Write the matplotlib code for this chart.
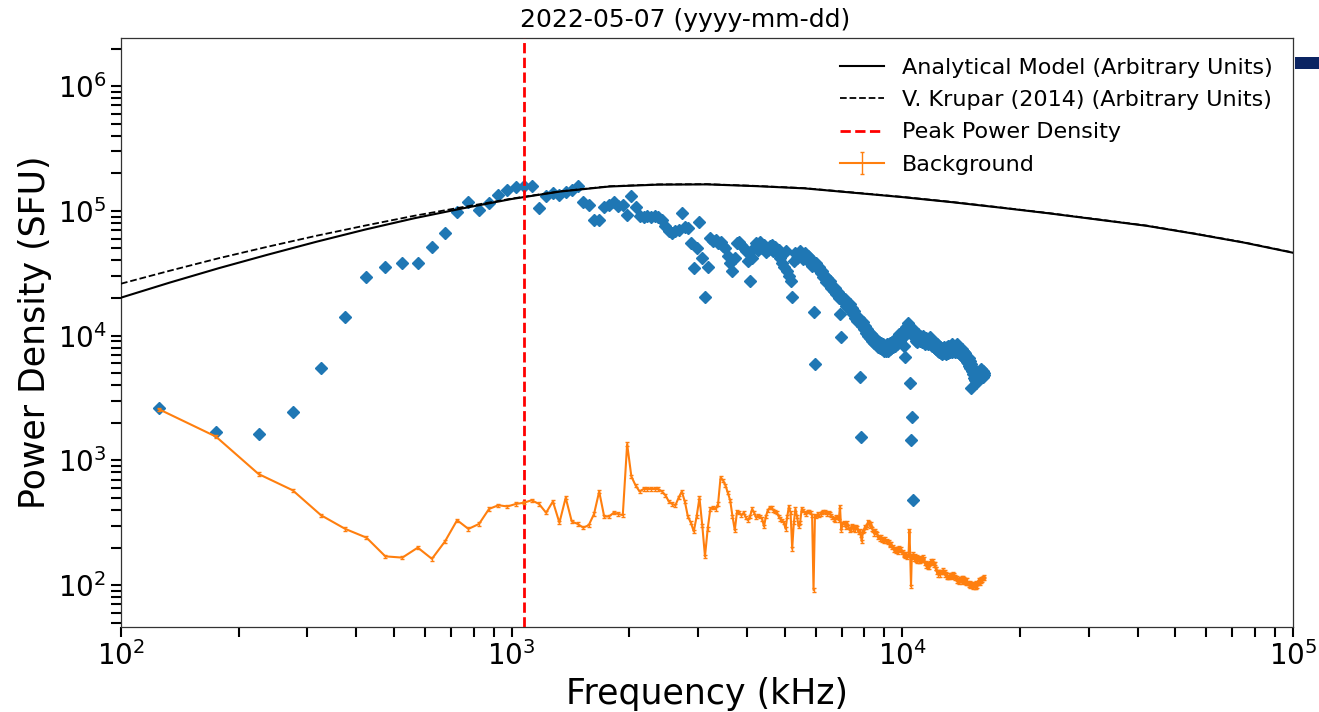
import numpy as np
import matplotlib
matplotlib.use("Agg")
import matplotlib.pyplot as plt
from matplotlib.patches import Rectangle

# ---------------- data ----------------
title_text = "2022-05-07 (yyyy-mm-dd)"
x_label = "Frequency (kHz)"
y_label = "Power Density (SFU)"

# frequency channels (kHz): 125, 175, ... 16225
channel_start, channel_step, channel_stop = 125, 50, 16225
freq = np.arange(channel_start, channel_stop + 1, channel_step)

# observed power density (log10 SFU), one value per channel, 10 channels per row
signal_log10 = [
    3.42, 3.23, 3.21, 3.39, 3.74, 4.15, 4.47, 4.55, 4.58, 4.58,
    4.71, 4.82, 4.99, 5.07, 5.01, 5.06, 5.13, 5.17, 5.19, 5.20,
    5.20, 5.02, 5.12, 5.14, 5.13, 5.15, 5.17, 5.20, 5.07, 5.05,
    4.93, 4.93, 5.03, 5.05, 5.07, 5.04, 5.05, 4.97, 5.12, 5.03,
    4.96, 4.95, 4.96, 4.95, 4.96, 4.95, 4.93, 4.88, 4.84, 4.82,
    4.84, 4.85, 4.98, 4.87, 4.86, 4.74, 4.54, 4.70, 4.91, 4.62,
    4.31, 4.55, 4.78, 4.76, 4.77, 4.74, 4.75, 4.72, 4.70, 4.64,
    4.58, 4.52, 4.62, 4.74, 4.75, 4.73, 4.70, 4.68, 4.60, 4.44,
    4.62, 4.70, 4.74, 4.69, 4.75, 4.70, 4.73, 4.67, 4.69, 4.72,
    4.73, 4.68, 4.71, 4.66, 4.69, 4.62, 4.58, 4.55, 4.68, 4.52,
    4.48, 4.44, 4.31, 4.60, 4.66, 4.62, 4.65, 4.68, 4.63, 4.61,
    4.66, 4.62, 4.64, 4.59, 4.61, 4.56, 4.19, 3.77, 4.58, 4.53,
    4.55, 4.50, 4.52, 4.47, 4.48, 4.43, 4.46, 4.41, 4.44, 4.38,
    4.40, 4.36, 4.38, 4.33, 4.35, 4.30, 4.17, 3.99, 4.31, 4.27,
    4.29, 4.24, 4.27, 4.22, 4.25, 4.20, 4.22, 4.17, 4.20, 4.14,
    4.16, 4.12, 4.14, 3.67, 3.19, 4.08, 4.11, 4.05, 4.08, 4.02,
    4.05, 4.00, 4.03, 3.98, 4.01, 3.96, 3.99, 3.94, 3.98, 3.93,
    3.96, 3.91, 3.95, 3.90, 3.94, 3.89, 3.93, 3.88, 3.92, 3.88,
    3.93, 3.88, 3.93, 3.89, 3.94, 3.90, 3.95, 3.91, 3.96, 3.92,
    3.98, 3.93, 3.99, 3.95, 4.01, 3.96, 4.02, 3.98, 4.04, 4.00,
    3.92, 3.83, 4.07, 4.03, 4.10, 4.06, 4.08, 3.62, 3.16, 3.35,
    2.68, 4.05, 3.99, 4.02, 3.96, 4.00, 3.95, 4.01, 3.97, 4.00,
    3.96, 3.99, 3.95, 4.00, 3.96, 3.98, 3.93, 3.98, 3.94, 3.97,
    3.93, 3.97, 3.94, 3.99, 3.95, 3.97, 3.92, 3.96, 3.91, 3.95,
    3.90, 3.94, 3.89, 3.93, 3.88, 3.92, 3.87, 3.91, 3.86, 3.90,
    3.85, 3.89, 3.86, 3.91, 3.86, 3.90, 3.85, 3.91, 3.87, 3.92,
    3.86, 3.91, 3.87, 3.92, 3.88, 3.93, 3.87, 3.92, 3.88, 3.91,
    3.87, 3.92, 3.88, 3.93, 3.87, 3.92, 3.88, 3.91, 3.86, 3.90,
    3.85, 3.89, 3.84, 3.88, 3.83, 3.87, 3.82, 3.86, 3.81, 3.84,
    3.79, 3.83, 3.78, 3.82, 3.76, 3.80, 3.74, 3.58, 3.77, 3.72,
    3.74, 3.69, 3.71, 3.66, 3.70, 3.64, 3.68, 3.62, 3.67, 3.65,
    3.70, 3.66, 3.71, 3.67, 3.72, 3.68, 3.73, 3.69, 3.71, 3.67,
    3.72, 3.68, 3.70,
]

# background power density (log10 SFU), one value per channel
background_log10 = [
    3.41, 3.19, 2.89, 2.76, 2.56, 2.45, 2.38, 2.23, 2.22, 2.30,
    2.21, 2.35, 2.52, 2.45, 2.49, 2.61, 2.64, 2.63, 2.65, 2.66,
    2.68, 2.65, 2.58, 2.67, 2.50, 2.70, 2.51, 2.49, 2.46, 2.48,
    2.57, 2.75, 2.55, 2.55, 2.58, 2.57, 2.56, 3.13, 2.87, 2.80,
    2.75, 2.77, 2.77, 2.77, 2.77, 2.77, 2.75, 2.72, 2.67, 2.65,
    2.64, 2.70, 2.75, 2.67, 2.55, 2.50, 2.43, 2.55, 2.70, 2.48,
    2.23, 2.45, 2.61, 2.62, 2.61, 2.65, 2.86, 2.84, 2.80, 2.74,
    2.68, 2.55, 2.44, 2.59, 2.58, 2.56, 2.58, 2.54, 2.52, 2.55,
    2.61, 2.58, 2.54, 2.56, 2.55, 2.53, 2.47, 2.55, 2.60, 2.62,
    2.62, 2.60, 2.59, 2.58, 2.55, 2.53, 2.52, 2.50, 2.45, 2.55,
    2.63, 2.58, 2.29, 2.50, 2.61, 2.55, 2.47, 2.50, 2.61, 2.60,
    2.58, 2.57, 2.59, 2.59, 2.58, 2.56, 1.96, 2.56, 2.55, 2.57,
    2.56, 2.57, 2.58, 2.59, 2.59, 2.58, 2.57, 2.58, 2.57, 2.56,
    2.54, 2.53, 2.52, 2.55, 2.54, 2.52, 2.63, 2.44, 2.49, 2.50,
    2.49, 2.46, 2.50, 2.47, 2.44, 2.45, 2.48, 2.45, 2.47, 2.44,
    2.47, 2.46, 2.42, 2.44, 2.40, 2.35, 2.43, 2.44, 2.47, 2.46,
    2.48, 2.51, 2.50, 2.47, 2.49, 2.45, 2.44, 2.41, 2.44, 2.42,
    2.41, 2.38, 2.39, 2.37, 2.39, 2.36, 2.37, 2.35, 2.37, 2.35,
    2.36, 2.34, 2.35, 2.32, 2.33, 2.33, 2.30, 2.31, 2.28, 2.29,
    2.27, 2.29, 2.26, 2.29, 2.30, 2.28, 2.29, 2.26, 2.27, 2.24,
    2.25, 2.23, 2.25, 2.22, 2.24, 2.25, 2.44, 2.24, 1.99, 2.24,
    2.22, 2.25, 2.21, 2.24, 2.20, 2.23, 2.19, 2.22, 2.19, 2.21,
    2.19, 2.22, 2.20, 2.23, 2.20, 2.21, 2.17, 2.18, 2.15, 2.17,
    2.14, 2.17, 2.14, 2.18, 2.17, 2.20, 2.18, 2.20, 2.17, 2.16,
    2.17, 2.13, 2.13, 2.10, 2.11, 2.08, 2.11, 2.08, 2.10, 2.11,
    2.10, 2.11, 2.12, 2.10, 2.11, 2.08, 2.09, 2.06, 2.08, 2.06,
    2.07, 2.06, 2.08, 2.07, 2.08, 2.06, 2.08, 2.09, 2.07, 2.08,
    2.07, 2.05, 2.06, 2.03, 2.06, 2.03, 2.04, 2.02, 2.05, 2.04,
    2.05, 2.02, 2.06, 2.04, 2.06, 2.03, 2.05, 2.02, 2.04, 2.01,
    2.04, 2.01, 2.02, 2.00, 2.01, 1.99, 2.02, 2.00, 2.01, 1.99,
    2.01, 1.98, 2.00, 2.00, 1.98, 2.01, 1.98, 2.02, 1.99, 2.02,
    2.01, 2.04, 2.02, 2.04, 2.01, 2.05, 2.03, 2.05, 2.04, 2.06,
    2.05, 2.07, 2.05,
]
background_rel_err = 0.03

# model curves (log10 frequency, log10 arbitrary units)
model_logf = [2.000, 2.125, 2.250, 2.375, 2.500, 2.625, 2.750, 2.875, 3.000,
              3.125, 3.250, 3.375, 3.500, 3.625, 3.750, 3.875, 4.000, 4.125,
              4.250, 4.375, 4.500, 4.625, 4.750, 4.875, 5.000]
analytical_log10 = [4.304, 4.425, 4.540, 4.648, 4.752, 4.850, 4.940, 5.020, 5.095,
                    5.155, 5.195, 5.210, 5.212, 5.198, 5.180, 5.145, 5.110, 5.070,
                    5.026, 4.980, 4.930, 4.880, 4.815, 4.745, 4.664]
krupar_log10 = [4.416, 4.520, 4.620, 4.712, 4.800, 4.882, 4.960, 5.030, 5.098,
                5.157, 5.197, 5.212, 5.214, 5.200, 5.182, 5.147, 5.112, 5.072,
                5.028, 4.982, 4.932, 4.882, 4.817, 4.747, 4.666]

peak_freq = 1076  # kHz

legend_labels = ["Analytical Model (Arbitrary Units)",
                 "V. Krupar (2014) (Arbitrary Units)",
                 "Peak Power Density",
                 "Background"]

# ---------------- plot ----------------
sig = 10 ** np.array(signal_log10)
bg = 10 ** np.array(background_log10)
mf = 10 ** np.array(model_logf)
ana = 10 ** np.array(analytical_log10)
kru = 10 ** np.array(krupar_log10)

fig = plt.figure(figsize=(13.19, 7.12), dpi=100)
ax = fig.add_axes([121 / 1319, 1 - 627 / 712, (1293 - 121) / 1319, (627 - 38) / 712])

ax.plot(freq, sig, linestyle="none", marker="D", color="tab:blue", ms=6, zorder=2)
ax.plot(mf, ana, color="black", lw=1.5, label=legend_labels[0], zorder=3)
ax.plot(mf, kru, color="black", lw=1.3, ls="--", label=legend_labels[1], zorder=3)
ax.axvline(peak_freq, color="red", ls="--", lw=2, label=legend_labels[2], zorder=3)
ax.errorbar(freq, bg, yerr=bg * background_rel_err, color="tab:orange", lw=1.5,
            elinewidth=1, capsize=1.5, label=legend_labels[3], zorder=4)

ax.set_xscale("log")
ax.set_yscale("log")
ax.set_xlim(1e2, 1e5)
ax.set_ylim(46.1, 2.43e6)

ax.tick_params(which="both", direction="out", length=7, width=1.5, color="black",
               labelsize=20, right=False, top=False)
for s in ax.spines.values():
    s.set_linewidth(0.9)
    s.set_color("#333333")

ax.set_xlabel(x_label, fontsize=25)
ax.set_ylabel(y_label, fontsize=25)
ax.set_title(title_text, fontsize=18, x=(685 - 121) / (1293 - 121), pad=8)

ax.legend(loc="upper right", fontsize=16, frameon=False, labelspacing=0.55)

fig.add_artist(Rectangle((1295 / 1319, 1 - 69 / 712), 30 / 1319, 12 / 712,
                         transform=fig.transFigure, color="#0b2462", lw=0))

fig.savefig("out.png", dpi=100)
